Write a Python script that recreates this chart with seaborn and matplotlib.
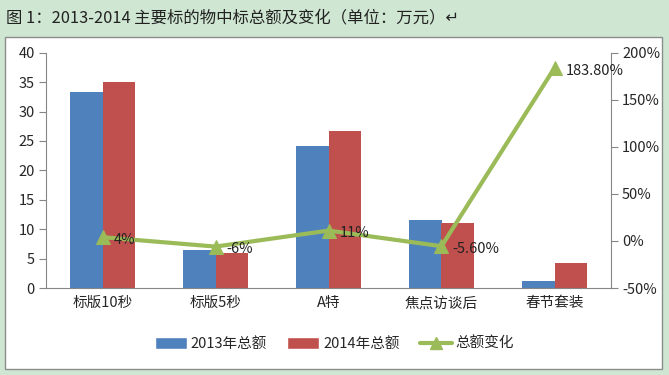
import matplotlib
matplotlib.use("Agg")
import matplotlib.pyplot as plt
import numpy as np
import pandas as pd
import seaborn as sns
from matplotlib.patches import Rectangle
from matplotlib.lines import Line2D
from matplotlib.patches import Patch

categories = ["标版10秒", "标版5秒", "A特", "焦点访谈后", "春节套装"]
total_2013 = [33.4, 6.4, 24.2, 11.6, 1.2]
total_2014 = [35.0, 6.0, 26.7, 11.1, 4.2]
change = [0.04, -0.06, 0.11, -0.056, 1.838]
change_labels = ["4%", "-6%", "11%", "-5.60%", "183.80%"]
series_names = ["2013年总额", "2014年总额", "总额变化"]

blue, red, green = "#4f81bd", "#c0504d", "#9bbb59"
axis_grey = "#868686"

sns.set_style("white")
plt.rcParams["font.family"] = ["Noto Sans CJK SC", "DejaVu Sans"]

df = pd.DataFrame({
    "category": categories * 2,
    "total": total_2013 + total_2014,
    "year": [series_names[0]] * 5 + [series_names[1]] * 5,
})

fig = plt.figure(figsize=(6.69, 3.75), dpi=100)
fig.patch.set_facecolor("#cfe7d2")

# white chart box behind the axes
fig.patches.append(Rectangle((5 / 669, 1 - 369 / 375), 657 / 669, 332 / 375,
                             transform=fig.transFigure, facecolor="white",
                             edgecolor="#8c8c8c", linewidth=1, zorder=-5))
fig.text(6 / 669, 1 - 18 / 375, "图 1：2013-2014 主要标的物中标总额及变化（单位：万元）↵",
         fontsize=11.8, va="center", ha="left", color="#222222")

ax = fig.add_axes([46 / 669, 1 - 288 / 375, 565 / 669, 235.3 / 375])
ax.set_facecolor("none")
sns.barplot(data=df, x="category", y="total", hue="year",
            palette=[blue, red], width=0.57, saturation=1, linewidth=0,
            ax=ax, legend=False)
ax.set_ylim(0, 40)
ax.set_xlim(-0.5, 4.5)
ax.set_yticks(range(0, 41, 5))
ax.set_xlabel("")
ax.set_ylabel("")
ax.set_xticks(np.arange(-0.5, 5, 1), minor=False)
ax.set_xticklabels([])
ax.set_xticks(range(5), minor=True)
ax.set_xticklabels(categories, minor=True, fontsize=10.5)
ax.tick_params(axis="x", which="minor", length=0, pad=6)
ax.tick_params(axis="x", which="major", length=5, color=axis_grey, direction="out")
ax.tick_params(axis="y", length=5, color=axis_grey, direction="out", labelsize=10.5, pad=3)
for s in ["top", "right"]:
    ax.spines[s].set_visible(False)
for s in ["left", "bottom"]:
    ax.spines[s].set_color(axis_grey)

ax2 = ax.twinx()
sns.lineplot(x=np.arange(5), y=change, color=green, linewidth=3,
             marker="^", markersize=10, markeredgecolor=green, ax=ax2)
ax2.set_ylim(-0.5, 2.0)
ax2.set_yticks(np.arange(-0.5, 2.01, 0.5))
ax2.set_yticklabels([f"{int(round(v * 100))}%" for v in np.arange(-0.5, 2.01, 0.5)])
ax2.tick_params(axis="y", length=5, color=axis_grey, direction="out", labelsize=10.5, pad=3)
for s in ["top", "left", "bottom"]:
    ax2.spines[s].set_visible(False)
ax2.spines["right"].set_color(axis_grey)
for i, (v, lab) in enumerate(zip(change, change_labels)):
    ax2.annotate(lab, (i, v), xytext=(8, -2), textcoords="offset points",
                 ha="left", va="center", fontsize=10.5, color="#222222")

handles = [Patch(facecolor=blue), Patch(facecolor=red),
           Line2D([0], [0], color=green, linewidth=3, marker="^", markersize=8)]
fig.legend(handles, series_names, loc="center", bbox_to_anchor=(0.5, 1 - 344 / 375),
           ncol=3, frameon=False, fontsize=10.5, handlelength=2.2, handleheight=0.9,
           columnspacing=1.4, handletextpad=0.25)

fig.savefig("out.png", dpi=100, facecolor=fig.get_facecolor())
